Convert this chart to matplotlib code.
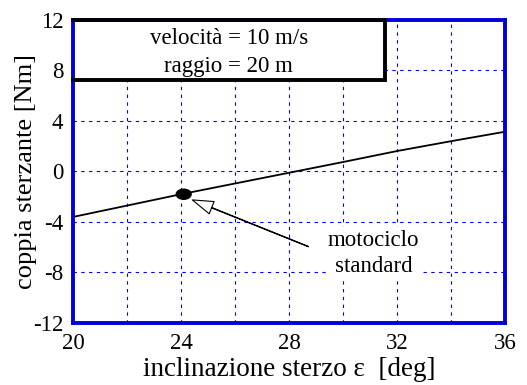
import numpy as np
import matplotlib.pyplot as plt
from matplotlib.patches import Ellipse, Rectangle

plt.rcParams['font.family'] = ['Liberation Serif', 'DejaVu Serif']
plt.rcParams['axes.unicode_minus'] = False

# steering torque vs. steering head angle
angolo = [20, 22, 24, 26, 28, 30, 32, 34, 36]
coppia = [-3.6, -2.7, -1.8, -0.95, -0.1, 0.75, 1.62, 2.4, 3.15]
punto_std = (24.1, -1.8)

x_ticks = [20, 24, 28, 32, 36]
y_ticks = [-12, -8, -4, 0, 4, 8, 12]

fig = plt.figure(figsize=(5.27, 3.85), dpi=100)
ax = fig.add_axes([73 / 527, 1 - 323 / 385, 432 / 527, 303 / 385])

ax.plot(angolo, coppia, color='black', lw=1.3, zorder=3)
# standard motorcycle point
ax.add_patch(Ellipse(punto_std, 0.55, 0.8, color='black', zorder=4))

ax.set_xlim(20, 36)
ax.set_ylim(-12, 12)
ax.set_xticks(x_ticks)
ax.set_yticks(y_ticks)
ax.set_xticks(np.arange(22, 36, 2), minor=True)
ax.tick_params(axis='both', which='both', length=0, labelsize=16.5)
ax.tick_params(axis='x', pad=7)
ax.tick_params(axis='y', pad=7)
ax.grid(True, which='both', axis='x', color='blue', ls=(0, (3, 4)), lw=0.8)
ax.grid(True, which='major', axis='y', color='blue', ls=(0, (3, 4)), lw=0.8)
for s in ax.spines.values():
    s.set_color('#0000dd')
    s.set_linewidth(2.8)
    s.set_zorder(6)

ax.set_xlabel('inclinazione sterzo ε  [deg]', fontsize=19.5, labelpad=2)
ax.set_ylabel('coppia sterzante [Nm]', fontsize=19, labelpad=-3)

# info box in the top-left corner
bx0, bx1, by0, by1 = 20, 31.55, 7.25, 12
ax.add_patch(Rectangle((bx0, by0), bx1 - bx0, by1 - by0, fc='white', ec='none', zorder=5))
ax.plot([bx0, bx1, bx1, bx0], [by1, by1, by0, by0], color='black', lw=2.8,
        solid_joinstyle='miter', clip_on=False, zorder=7)
ax.text((bx0 + bx1) / 2, 9.4, 'velocità = 10 m/s\nraggio = 20 m', ha='center', va='center',
        fontsize=16.5, linespacing=1.45, zorder=8)

ax.text(31.14, -6.5, 'motociclo\nstandard', ha='center', va='center', fontsize=16.5,
        linespacing=1.35, zorder=7,
        bbox=dict(boxstyle='square,pad=0.1', fc='white', ec='none'))
ax.annotate('', xy=(24.42, -2.25), xytext=(28.72, -5.95), zorder=7,
            arrowprops=dict(arrowstyle='simple,head_length=1.5,head_width=0.95,tail_width=0.03',
                            fc='white', ec='black', lw=0.8, shrinkA=0, shrinkB=0))

fig.savefig('out.png', dpi=100)
